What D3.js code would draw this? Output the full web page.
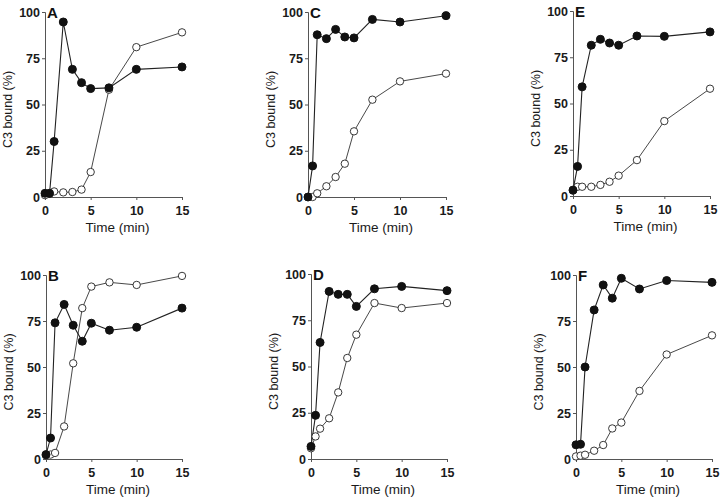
<!DOCTYPE html>
<html><head><meta charset="utf-8">
<script src="https://cdn.jsdelivr.net/npm/d3@7"></script>
<style>body{margin:0;background:#fff}svg{display:block}</style>
</head><body><div id="c"></div>
<script>
const times = [0, 0.5, 1, 2, 3, 4, 5, 7, 10, 15];
const xTicks = [0, 5, 10, 15];
const yTicks = [0, 25, 50, 75, 100];
const panelLabels = ["A", "B", "C", "D", "E", "F"];
const filledA = [2, 2, 30, 94.6, 69, 61.8, 58.6, 59, 69, 70.3];
const openA   = [1, 2, 3, 2.5, 2.7, 4, 13.5, 58, 81, 89];
const filledB = [2.4, 11.4, 74, 84, 72.7, 64, 73.8, 70, 71.6, 82];
const openB   = [2, 2.4, 3.3, 17.7, 52, 82, 93.7, 96, 94.6, 99.5];
const filledC = [0, 16.8, 87.7, 85.6, 90.6, 86.5, 86, 96, 94.6, 98];
const openC   = [0, 0, 2, 5.8, 10.8, 18, 35.5, 52.6, 62.5, 66.7];
const filledD = [6.8, 23.6, 63, 90.6, 89, 89, 82.5, 92, 93.3, 91];
const openD   = [5.8, 12.2, 16.4, 22, 36, 54.6, 67.2, 84.3, 81.6, 84.3];
const filledE = [3.2, 16, 59, 81.5, 84.7, 82.7, 81.5, 86.5, 86.3, 88.7];
const openE   = [2.9, 5, 5, 5, 6, 7.7, 11, 19.4, 40.5, 58];
const filledF = [7.7, 8, 50, 81, 94.6, 87.4, 98.2, 92.4, 97, 96];
const openF   = [1.4, 1.8, 2.3, 4.5, 7.6, 16.6, 19.8, 37, 56.8, 67.2];

const panels = [
  {label:"A", filled:filledA, open:openA, x0:45, x1:182, y0:197, y1:12},
  {label:"B", filled:filledB, open:openB, x0:46, x1:182, y0:459, y1:275},
  {label:"C", filled:filledC, open:openC, x0:308, x1:446, y0:197, y1:12},
  {label:"D", filled:filledD, open:openD, x0:311, x1:447, y0:459, y1:274},
  {label:"E", filled:filledE, open:openE, x0:573, x1:710, y0:196, y1:11},
  {label:"F", filled:filledF, open:openF, x0:576, x1:712, y0:459, y1:275}
];

const svg = d3.select("#c").append("svg").attr("width",720).attr("height",498)
  .style("font-family","'Liberation Sans', Arial, sans-serif");

panels.forEach(p => {
  const x = d3.scaleLinear().domain([0,15]).range([p.x0,p.x1]);
  const y = d3.scaleLinear().domain([0,100]).range([p.y0,p.y1]);
  const g = svg.append("g");

  const ya = g.append("g").attr("transform",`translate(${p.x0},0)`)
    .call(d3.axisLeft(y).tickValues(yTicks).tickSize(3).tickPadding(2));
  const xa = g.append("g").attr("transform",`translate(0,${p.y0})`)
    .call(d3.axisBottom(x).tickValues(xTicks).tickSize(3).tickPadding(6));
  [ya, xa].forEach(a => {
    a.select(".domain").attr("stroke","#555").attr("stroke-width",1);
    a.selectAll(".tick line").attr("stroke","#555");
    a.selectAll(".tick text").attr("fill","#1a1a1a").style("font-size","12.5px").style("font-weight","bold");
  });

  g.append("text").attr("x",(p.x0+p.x1)/2+4).attr("y",p.y0+35)
    .attr("text-anchor","middle").style("font-size","13.5px").attr("fill","#1a1a1a")
    .text("Time (min)");
  g.append("text").attr("transform",`translate(${p.x0-33},${(p.y0+p.y1)/2+5}) rotate(-90)`)
    .attr("text-anchor","middle").style("font-size","12.5px").attr("fill","#1a1a1a")
    .text("C3 bound (%)");
  g.append("text").attr("x",p.x0+2).attr("y",p.y1+6).style("font-size","15px")
    .style("font-weight","bold").attr("fill","#111").text(p.label);

  const line = d3.line().x((d,i)=>x(times[i])).y(d=>y(d));
  g.append("path").datum(p.open).attr("d",line).attr("fill","none").attr("stroke","#333").attr("stroke-width",0.9);
  g.append("path").datum(p.filled).attr("d",line).attr("fill","none").attr("stroke","#222").attr("stroke-width",1.1);
  g.selectAll(".o").data(p.open).enter().append("circle")
    .attr("cx",(d,i)=>x(times[i])).attr("cy",d=>y(d)).attr("r",3.7)
    .attr("fill","#fff").attr("stroke","#222").attr("stroke-width",0.9);
  g.selectAll(".f").data(p.filled).enter().append("circle")
    .attr("cx",(d,i)=>x(times[i])).attr("cy",d=>y(d)).attr("r",4)
    .attr("fill","#111").attr("stroke","#111");
});
</script></body></html>
